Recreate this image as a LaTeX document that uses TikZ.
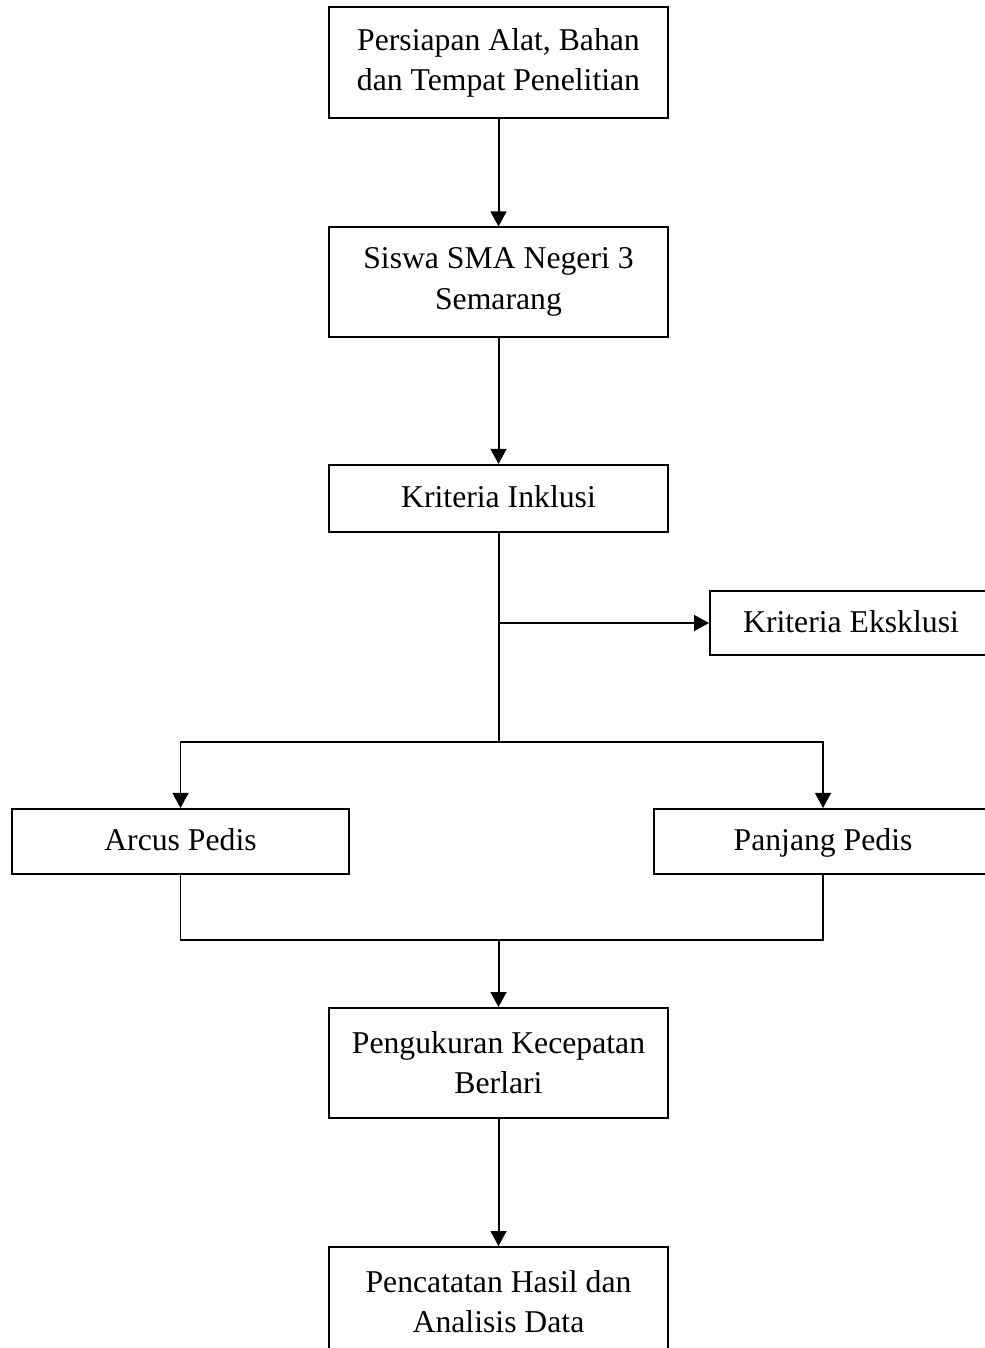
\documentclass[tikz,border=0pt]{standalone}
\usepackage{fontspec}
\setmainfont{Liberation Serif}
\usepackage{tikz}
\usetikzlibrary{arrows.meta, positioning, calc}

\begin{document}
\begin{tikzpicture}[x=0.3785pt, y=0.3785pt, font=\fontsize{12}{15.2}\selectfont,
    box/.style={draw, line width=0.75pt, align=center, inner sep=0pt, minimum width=128.3pt},
    single/.style={box, text height=0.93em, text depth=0.22em},
    arr/.style={-{Triangle[length=5.7pt, width=6pt]}},
    every path/.style={line width=0.75pt}]
  \useasboundingbox (0,0) rectangle (985,-1348);

  \node[box, minimum height=42pt] (prep) at (498.5, -62.5) {Persiapan Alat, Bahan\\dan Tempat Penelitian};
  \node[box, minimum height=41.3pt] (siswa) at (498.5, -282) {Siswa SMA Negeri 3\\Semarang};
  \node[single, minimum height=25.4pt] (inkl) at (498.5, -498.5) {Kriteria Inklusi};
  \node[single, minimum width=106.7pt, minimum height=24.2pt] (eksk) at (851, -623) {Kriteria Eksklusi};
  \node[single, minimum width=127.6pt, minimum height=24.6pt] (arcus) at (180.5, -841.5) {Arcus Pedis};
  \node[single, minimum width=127.9pt, minimum height=24.6pt] (panj) at (823, -841.5) {Panjang Pedis};
  \node[box, minimum height=41.6pt] (ukur) at (498.5, -1063) {Pengukuran Kecepatan\\Berlari};
  \node[box, minimum height=41.6pt] (catat) at (498.5, -1302) {Pencatatan Hasil dan\\Analisis Data};

  \coordinate (tap) at (inkl.south |- eksk.west);
  \coordinate (fork) at ($(inkl.south |- 0,-742)$);
  \coordinate (merge) at ($(ukur.north |- 0,-940)$);

  \draw[arr] (prep) -- (siswa);
  \draw[arr] (siswa) -- (inkl);
  \draw (inkl) -- (fork);
  \draw[arr] (tap) -- (eksk);
  \draw[arr] (fork) -| (arcus.north);
  \draw[arr] (fork) -| (panj.north);
  \draw (arcus.south) |- (merge) -| (panj.south);
  \draw[arr] (merge) -- (ukur);
  \draw[arr] (ukur) -- (catat);
\end{tikzpicture}
\end{document}
